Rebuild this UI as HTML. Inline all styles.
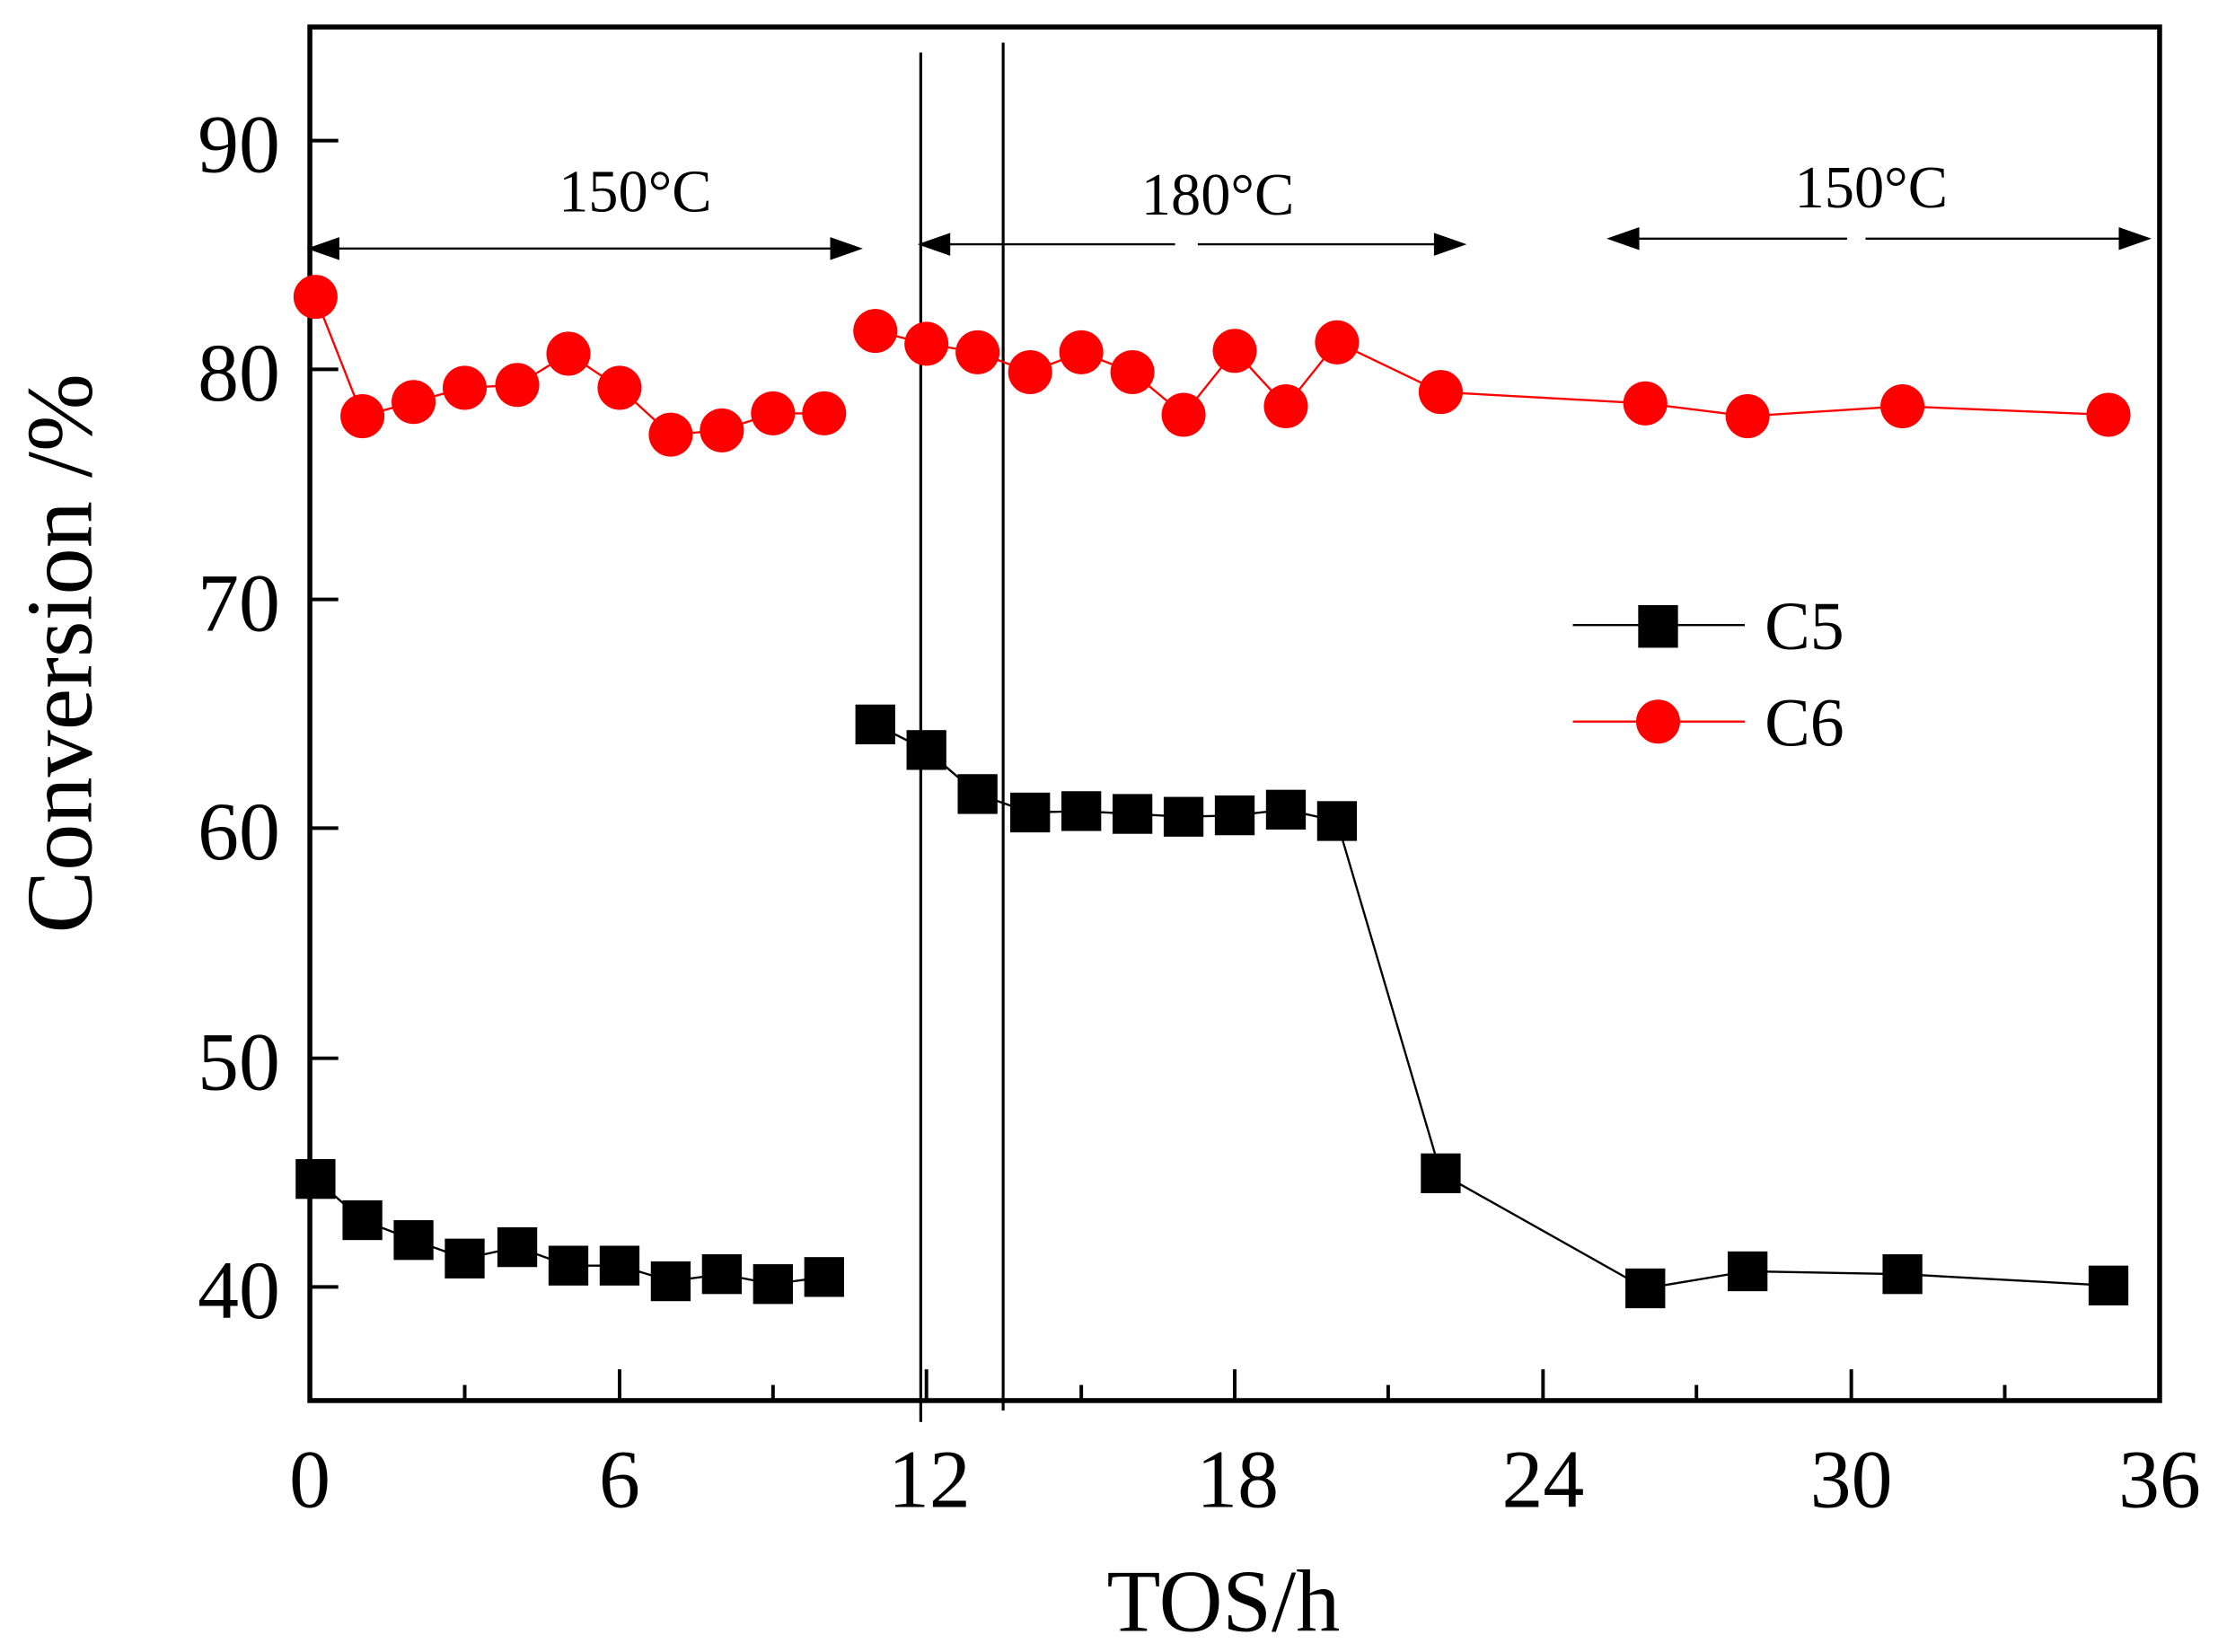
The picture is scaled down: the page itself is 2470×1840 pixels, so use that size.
<!DOCTYPE html>
<html><head><meta charset="utf-8"><style>html,body{margin:0;padding:0;background:#fff}svg{display:block}</style></head>
<body>
<svg width="2470" height="1840" viewBox="0 0 1561 1163" xmlns="http://www.w3.org/2000/svg" font-family="Liberation Serif, serif">
<rect width="1561" height="1163" fill="#fff"/>
<line x1="648" y1="37" x2="648" y2="1001" stroke="#000" stroke-width="2"/>
<line x1="706" y1="30" x2="706" y2="993" stroke="#000" stroke-width="2"/>
<g stroke="#000" stroke-width="2.5">
<line x1="218" y1="99" x2="238" y2="99"/><line x1="218" y1="260" x2="238" y2="260"/><line x1="218" y1="422" x2="238" y2="422"/><line x1="218" y1="583" x2="238" y2="583"/><line x1="218" y1="745" x2="238" y2="745"/><line x1="218" y1="906" x2="238" y2="906"/>
<line x1="436" y1="985" x2="436" y2="964"/><line x1="652" y1="985" x2="652" y2="964"/><line x1="869" y1="985" x2="869" y2="964"/><line x1="1086" y1="985" x2="1086" y2="964"/><line x1="1303" y1="985" x2="1303" y2="964"/>
<line x1="327" y1="985" x2="327" y2="975"/><line x1="544" y1="985" x2="544" y2="975"/><line x1="761" y1="985" x2="761" y2="975"/><line x1="977" y1="985" x2="977" y2="975"/><line x1="1194" y1="985" x2="1194" y2="975"/><line x1="1411" y1="985" x2="1411" y2="975"/>
</g>
<rect x="218" y="19" width="1302" height="967" fill="none" stroke="#000" stroke-width="3.5"/>
<g stroke="#000" stroke-width="1.5" fill="#000">
<line x1="230" y1="175" x2="590" y2="175"/><polygon points="218,175 238,168 238,182"/><polygon points="605,175 585,168 585,182"/>
<line x1="660" y1="172" x2="827" y2="172"/><line x1="843" y1="172" x2="1018" y2="172"/><polygon points="648,172 668,165 668,179"/><polygon points="1030,172 1010,165 1010,179"/>
<line x1="1145" y1="168" x2="1300" y2="168"/><line x1="1313" y1="168" x2="1500" y2="168"/><polygon points="1133,168 1153,161 1153,175"/><polygon points="1512,168 1492,161 1492,175"/>
</g>
<g font-size="42" text-anchor="middle" fill="#000">
<text x="447" y="149">150°C</text><text x="857" y="151">180°C</text><text x="1317" y="146">150°C</text>
</g>
<g fill="none" stroke="#f00" stroke-width="1.5">
<polyline points="222,209 255,293 291,283 327,273 364,271 400,249 436,273 472,306 508,303 544,291 580,291"/>
<polyline points="616,233 652,242 688,248 725,262 761,248 797,262 833,292 869,247 905,286 941,241 1014,276 1158,284 1230,293 1339,286 1484,292"/>
</g>
<g fill="#f00">
<circle cx="222" cy="209" r="15.5"/><circle cx="255" cy="293" r="15.5"/><circle cx="291" cy="283" r="15.5"/><circle cx="327" cy="273" r="15.5"/><circle cx="364" cy="271" r="15.5"/><circle cx="400" cy="249" r="15.5"/><circle cx="436" cy="273" r="15.5"/><circle cx="472" cy="306" r="15.5"/><circle cx="508" cy="303" r="15.5"/><circle cx="544" cy="291" r="15.5"/><circle cx="580" cy="291" r="15.5"/><circle cx="616" cy="233" r="15.5"/><circle cx="652" cy="242" r="15.5"/><circle cx="688" cy="248" r="15.5"/><circle cx="725" cy="262" r="15.5"/><circle cx="761" cy="248" r="15.5"/><circle cx="797" cy="262" r="15.5"/><circle cx="833" cy="292" r="15.5"/><circle cx="869" cy="247" r="15.5"/><circle cx="905" cy="286" r="15.5"/><circle cx="941" cy="241" r="15.5"/><circle cx="1014" cy="276" r="15.5"/><circle cx="1158" cy="284" r="15.5"/><circle cx="1230" cy="293" r="15.5"/><circle cx="1339" cy="286" r="15.5"/><circle cx="1484" cy="292" r="15.5"/>
</g>
<g fill="none" stroke="#000" stroke-width="1.5">
<polyline points="222,830 255,859 291,873 327,886 364,878 400,891 436,891 472,902 508,897 544,904 580,899"/>
<polyline points="616,510 652,528 688,559 725,572 761,571 797,573 833,575 869,574 905,570 941,578 1014,826 1158,907 1230,895 1339,897 1484,905"/>
</g>
<g fill="#000">
<rect x="208" y="816" width="28" height="28"/><rect x="241" y="845" width="28" height="28"/><rect x="277" y="859" width="28" height="28"/><rect x="313" y="872" width="28" height="28"/><rect x="350" y="864" width="28" height="28"/><rect x="386" y="877" width="28" height="28"/><rect x="422" y="877" width="28" height="28"/><rect x="458" y="888" width="28" height="28"/><rect x="494" y="883" width="28" height="28"/><rect x="530" y="890" width="28" height="28"/><rect x="566" y="885" width="28" height="28"/><rect x="602" y="496" width="28" height="28"/><rect x="638" y="514" width="28" height="28"/><rect x="674" y="545" width="28" height="28"/><rect x="711" y="558" width="28" height="28"/><rect x="747" y="557" width="28" height="28"/><rect x="783" y="559" width="28" height="28"/><rect x="819" y="561" width="28" height="28"/><rect x="855" y="560" width="28" height="28"/><rect x="891" y="556" width="28" height="28"/><rect x="927" y="564" width="28" height="28"/><rect x="1000" y="812" width="28" height="28"/><rect x="1144" y="893" width="28" height="28"/><rect x="1216" y="881" width="28" height="28"/><rect x="1325" y="883" width="28" height="28"/><rect x="1470" y="891" width="28" height="28"/>
</g>
<line x1="1107" y1="440" x2="1228" y2="440" stroke="#000" stroke-width="1.5"/>
<rect x="1153" y="426" width="28" height="30" fill="#000"/>
<line x1="1107" y1="508" x2="1228" y2="508" stroke="#f00" stroke-width="1.5"/>
<circle cx="1167" cy="508" r="15.5" fill="#f00"/>
<g font-size="48" fill="#000"><text x="1242" y="457">C5</text><text x="1242" y="525">C6</text></g>
<g font-size="58" text-anchor="end" fill="#000">
<text x="197" y="121">90</text><text x="197" y="282">80</text><text x="197" y="444">70</text><text x="197" y="605">60</text><text x="197" y="767">50</text><text x="197" y="928">40</text>
</g>
<g font-size="58" text-anchor="middle" fill="#000">
<text x="218" y="1061">0</text><text x="436" y="1061">6</text><text x="654" y="1061">12</text><text x="871" y="1061">18</text><text x="1086" y="1061">24</text><text x="1303" y="1061">30</text><text x="1520" y="1061">36</text>
</g>
<text x="861" y="1148" font-size="62" text-anchor="middle">TOS/h</text>
<text transform="translate(64,460) rotate(-90)" font-size="66" text-anchor="middle">Conversion /%</text>
</svg>
</body></html>
